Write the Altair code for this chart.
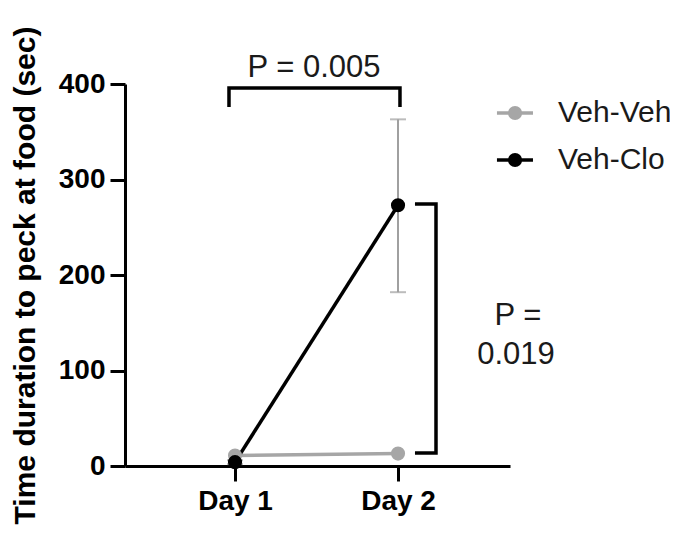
import altair as alt
import pandas as pd

# ---- data ----
days = [1, 2]
series_names = ["Veh-Veh", "Veh-Clo"]
series_colors = ["#a6a6a6", "#000000"]
vehveh_mean = [11, 13]
vehclo_mean = [4, 273]
vehclo_lo = [2, 182]
vehclo_hi = [6, 363]

# annotation geometry (data units)
br1_x = [0.963, 0.963, 2.012, 2.012]
br1_y = [376, 395.8, 395.8, 376]
br2_x = [2.104, 2.233, 2.233, 2.104]
br2_y = [274.3, 274.3, 13.6, 13.6]
ann_text = ["P = 0.005", "P =", "0.019"]
ann_x = [1.485, 2.736, 2.724]
ann_y = [416.8, 157, 116.2]

leg_y = [369.6, 320.4]
leg_x1, leg_x2, leg_xp, leg_xt = 2.607, 2.828, 2.718, 2.981

FONT = "Liberation Sans"

xs = alt.Scale(domain=[0.325, 2.687], nice=False, zero=False)
ys = alt.Scale(domain=[0, 400], nice=False, zero=False)
xaxis = alt.Axis(values=[1, 2], labelExpr="datum.value == 1 ? 'Day 1' : 'Day 2'",
                 title=None, labelPadding=6)
yaxis = alt.Axis(values=[0, 100, 200, 300, 400], title="Time duration to peck at food (sec)",
                 titlePadding=18, labelPadding=5)


def X(f):
    return alt.X(f, type="quantitative", scale=xs, axis=xaxis)


def Y(f):
    return alt.Y(f, type="quantitative", scale=ys, axis=yaxis)


color = alt.Color("series:N", scale=alt.Scale(domain=series_names, range=series_colors), legend=None)

vv = pd.DataFrame({"day": days, "mean": vehveh_mean, "series": "Veh-Veh"})
vc = pd.DataFrame({"day": days, "mean": vehclo_mean, "series": "Veh-Clo", "lo": vehclo_lo, "hi": vehclo_hi})

err = alt.Chart(vc).mark_errorbar(ticks=True, size=16, thickness=2, color="#a0a0a0").encode(
    x=X("day"), y=Y("lo"), y2="hi")

line_vv = alt.Chart(vv).mark_line(strokeWidth=3.5).encode(x=X("day"), y=Y("mean"), color=color)
line_vc = alt.Chart(vc).mark_line(strokeWidth=3.5).encode(x=X("day"), y=Y("mean"), color=color)
pts_vv = alt.Chart(vv).mark_point(filled=True, size=200, opacity=1).encode(x=X("day"), y=Y("mean"), color=color)
pts_vc = alt.Chart(vc).mark_point(filled=True, size=200, opacity=1).encode(x=X("day"), y=Y("mean"), color=color)

br = pd.DataFrame({
    "x": br1_x + br2_x,
    "y": br1_y + br2_y,
    "g": ["a"] * 4 + ["b"] * 4,
    "o": list(range(4)) * 2,
})
brackets = alt.Chart(br).mark_line(color="black", strokeWidth=3.5, strokeJoin="miter", strokeCap="butt").encode(
    x=X("x"), y=Y("y"), detail="g:N", order="o:Q")

ann = pd.DataFrame({"t": ann_text, "x": ann_x, "y": ann_y})
texts = alt.Chart(ann).mark_text(font=FONT, fontSize=31, color="#1a1a1a", baseline="middle", align="center").encode(
    x=X("x"), y=Y("y"), text="t:N")

leg = pd.DataFrame({"series": series_names, "y": leg_y, "x1": leg_x1, "x2": leg_x2, "xp": leg_xp, "xt": leg_xt})
leg_line = alt.Chart(leg).mark_rule(strokeWidth=3.5).encode(x=X("x1"), x2="x2", y=Y("y"), color=color)
leg_pt = alt.Chart(leg).mark_point(filled=True, size=200, opacity=1).encode(x=X("xp"), y=Y("y"), color=color)
leg_txt = alt.Chart(leg).mark_text(font=FONT, fontSize=30, color="#1a1a1a", align="left", baseline="middle").encode(
    x=X("xt"), y=Y("y"), text="series:N")

chart = alt.layer(err, line_vv, line_vc, pts_vv, pts_vc, brackets, texts, leg_line, leg_pt, leg_txt).properties(
    width=385, height=382,
    autosize=alt.AutoSizeParams(type="none"),
    padding={"left": 117, "top": 76, "right": 160, "bottom": 68},
).configure_view(stroke=None).configure_axis(
    grid=False, domainColor="black", domainWidth=3, tickColor="black", tickWidth=3, tickSize=15,
    labelFont=FONT, labelFontSize=28, labelFontWeight="bold", labelColor="black",
    titleFont=FONT, titleFontSize=30, titleFontWeight="bold", titleColor="black",
)

chart.save("out.html", embed_options={"renderer": "svg", "actions": False})
